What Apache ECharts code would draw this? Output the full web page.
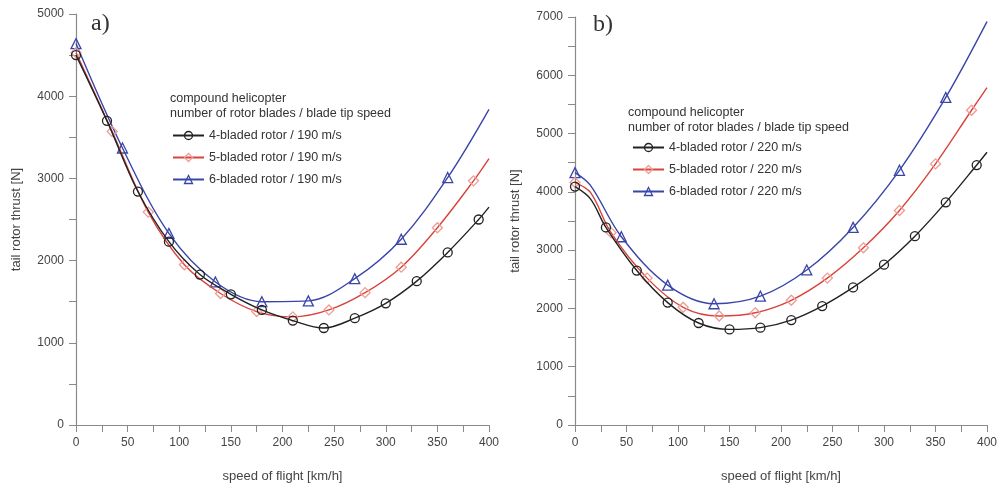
<!DOCTYPE html>
<html><head><meta charset="utf-8">
<script src="https://cdn.jsdelivr.net/npm/echarts@6/dist/echarts.min.js"></script>
<style>html,body{margin:0;padding:0;background:#fff}#c{width:1005px;height:488px}</style>
</head><body><div id="c"></div>
<script>
// ---- Panel a) blade tip speed 190 m/s ----
const a4x = [0,30,60,90,120,150,180,210,240,270,300,330,360,390,400];
const a4y = [4500,3700,2840,2230,1830,1590,1400,1270,1180,1300,1480,1750,2100,2500,2650];
const a5x = [0,35,70,105,140,175,210,245,280,315,350,385,400];
const a5y = [4530,3570,2590,1950,1600,1380,1315,1400,1610,1920,2400,2970,3240];
const a6x = [0,45,90,135,180,225,270,315,360,400];
const a6y = [4640,3370,2330,1740,1500,1510,1780,2260,3010,3840];
// ---- Panel b) blade tip speed 220 m/s ----
const b4x = [0,15,30,60,90,120,150,180,210,240,270,300,330,360,390,400];
const b4y = [4090,3880,3390,2650,2100,1750,1640,1670,1800,2040,2360,2750,3240,3820,4460,4680];
const b5x = [0,15,35,70,105,140,175,210,245,280,315,350,385,400];
const b5y = [4160,3990,3300,2520,2020,1870,1925,2140,2520,3040,3680,4480,5400,5790];
const b6x = [0,15,45,90,135,180,225,270,315,360,400];
const b6y = [4330,4110,3230,2400,2080,2210,2660,3390,4370,5620,6920];
// points without a marker (curve-only)
const noMarkA = [400];
const noMarkB = [15, 400];

const names = ['4-bladed rotor / 190 m/s','5-bladed rotor / 190 m/s','6-bladed rotor / 190 m/s'];
const namesB = ['4-bladed rotor / 220 m/s','5-bladed rotor / 220 m/s','6-bladed rotor / 220 m/s'];

const FONT = 'Liberation Sans, Arial, sans-serif';
const colors = ['#222222','#d9433c','#3a45a8'];
const mColors = ['#222222','#ee9c94','#3a45a8'];
const symbols = ['circle','diamond','triangle'];
const sizes = [9,10,10];

function mk(xs, ys, noMark){
  return xs.map((x,i)=> noMark.indexOf(x) >= 0 ? {value:[x,ys[i]], symbol:'none'} : {value:[x,ys[i]]});
}
function series(name, idx, xs, ys, noMark, axis){
  return {
    name, type:'line', xAxisIndex:axis, yAxisIndex:axis,
    data: mk(xs, ys, noMark), smooth:0.35,
    symbol:symbols[idx], symbolSize:sizes[idx], showAllSymbol:true,
    lineStyle:{color:colors[idx], width:1.4},
    itemStyle:{color:'rgba(255,255,255,0)', borderColor:mColors[idx], borderWidth:1.3},
    z: 3-idx
  };
}
function xAx(i){
  return {type:'value', gridIndex:i, min:0, max:400, interval:50,
    name:'speed of flight [km/h]', nameLocation:'middle', nameGap:45,
    nameTextStyle:{color:'#444', fontSize:13, fontFamily:FONT},
    axisLine:{lineStyle:{color:'#8a8a8a', width:1.2}},
    axisTick:{show:true, inside:false, length:7, lineStyle:{color:'#8a8a8a'}},
    minorTick:{show:true, splitNumber:2, length:7, lineStyle:{color:'#8a8a8a'}},
    axisLabel:{color:'#444', fontSize:12, fontFamily:FONT, margin:12, formatter:v=>String(v)},
    splitLine:{show:false}};
}
function yAx(i, max){
  return {type:'value', gridIndex:i, min:0, max:max, interval:1000,
    name:'tail rotor thrust [N]', nameLocation:'middle', nameGap:53,
    nameTextStyle:{color:'#444', fontSize:13, fontFamily:FONT},
    axisLine:{show:true, lineStyle:{color:'#8a8a8a', width:1.2}},
    axisTick:{show:true, length:7, lineStyle:{color:'#8a8a8a'}},
    minorTick:{show:true, splitNumber:2, length:7, lineStyle:{color:'#8a8a8a'}},
    axisLabel:{color:'#444', fontSize:12, fontFamily:FONT, margin:12, formatter:v=>String(v)},
    splitLine:{show:false}};
}
function legend(data, left, top){
  return {
    data: data.map((n,i)=>({name:n, itemStyle:{color:'rgba(255,255,255,0)', borderColor:mColors[i], borderWidth:1.3}})),
    orient:'vertical', left, top, itemWidth:31, itemHeight:10, itemGap:9,
    textStyle:{color:'#333', fontSize:12.5, fontFamily:FONT}, selectedMode:false};
}
function txt(x,y,t,size,fam){
  return {type:'text', left:x, top:y, style:{text:t, fill:'#333', font: size+'px '+fam}};
}

const chart = echarts.init(document.getElementById('c'), null, {renderer:'canvas'});
chart.setOption({
  animation:false,
  grid:[{left:76, right:516, top:14, bottom:61},{left:575, right:18, top:17, bottom:60}],
  xAxis:[xAx(0), xAx(1)],
  yAxis:[yAx(0,5000), yAx(1,7000)],
  legend:[legend(names,167,124), legend(namesB,627,136)],
  graphic:[
    txt(91,12,'a)',24,'Liberation Serif, serif'),
    txt(593,13,'b)',24,'Liberation Serif, serif'),
    txt(170,92,'compound helicopter',12.5,FONT),
    txt(170,107,'number of rotor blades / blade tip speed',12.5,FONT),
    txt(628,106,'compound helicopter',12.5,FONT),
    txt(628,121,'number of rotor blades / blade tip speed',12.5,FONT)
  ],
  series:[
    series(names[0],0,a4x,a4y,noMarkA,0),
    series(names[1],1,a5x,a5y,noMarkA,0),
    series(names[2],2,a6x,a6y,noMarkA,0),
    series(namesB[0],0,b4x,b4y,noMarkB,1),
    series(namesB[1],1,b5x,b5y,noMarkB,1),
    series(namesB[2],2,b6x,b6y,noMarkB,1)
  ]
});
</script></body></html>
